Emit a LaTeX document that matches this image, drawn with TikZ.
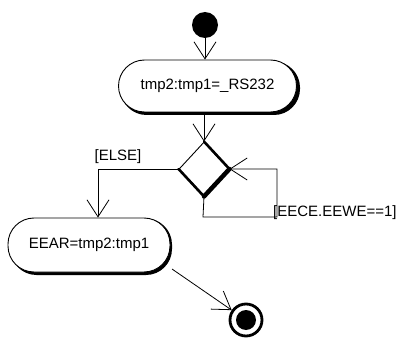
\documentclass[tikz,border=0pt]{standalone}
\usepackage{fontspec}
\setmainfont{Liberation Sans}
\usetikzlibrary{arrows.meta,shapes.geometric}
\begin{document}
\begin{tikzpicture}[x=1pt,y=-1pt,
  every node/.style={font=\fontsize{15}{17}\selectfont},
  action/.style={draw,line width=0.9pt,fill=white,rounded corners=26pt,inner sep=0pt},
  flow/.style={line width=0.8pt,-{Straight Barb[length=17pt,width=22pt,line width=0.8pt]}},
  line/.style={line width=0.8pt}]
\useasboundingbox (0,0) rectangle (402,342);
% start
\node[circle,fill=black,minimum size=26pt,inner sep=0pt] (start) at (205,25) {};
% action 1 with shadow
\fill[black,rounded corners=26pt] (120.5,61.5) rectangle (300,115);
\node[action,minimum width=178pt,minimum height=52pt] (a1) at (207.5,86) {tmp2:tmp1=\_RS232};
% decision
\node[diamond,draw,line width=0.9pt,minimum width=50pt,minimum height=54pt,inner sep=0pt] (d) at (204,169) {};
\draw[line width=2.6pt,line cap=round] (d.north) -- (d.east);
\draw[line width=4.5pt,line cap=round] (d.east) -- (d.south);
\draw[line width=2.6pt,line cap=round] (d.south) -- (d.west);
% action 2 with shadow
\fill[black,rounded corners=26pt] (10.5,218.5) rectangle (172,275);
\node[action,minimum width=162pt,minimum height=54pt] (a2) at (89,245) {EEAR=tmp2:tmp1};
% end
\node[circle,draw,line width=2.8pt,minimum size=32pt,inner sep=0pt] (end) at (246,320) {};
\node[circle,fill=black,minimum size=20pt,inner sep=0pt] (endin) at (246,320) {};
% connectors
\draw[flow] (start) -- (a1.north -| start);
\draw[flow] (a1.south -| d.north) -- (d.north);
\coordinate (e1) at (98,169);
\draw[flow] (d.west) -- (e1) -- (a2.north -| e1);
\coordinate (l1) at (203,217);
\coordinate (l2) at (277,217);
\coordinate (l3) at (277,169);
\draw[flow] (d.south) -- (l1) -- (l2) -- (l3) -- (d.east);
\coordinate (s2) at (172,269);
\draw[flow] (s2) -- (end);
% labels
\node (lelse) at (118,157) {[ELSE]};
\node[anchor=west,inner sep=0pt] (lloop) at (273,213) {[EECE.EEWE==1]};
\end{tikzpicture}
\end{document}
